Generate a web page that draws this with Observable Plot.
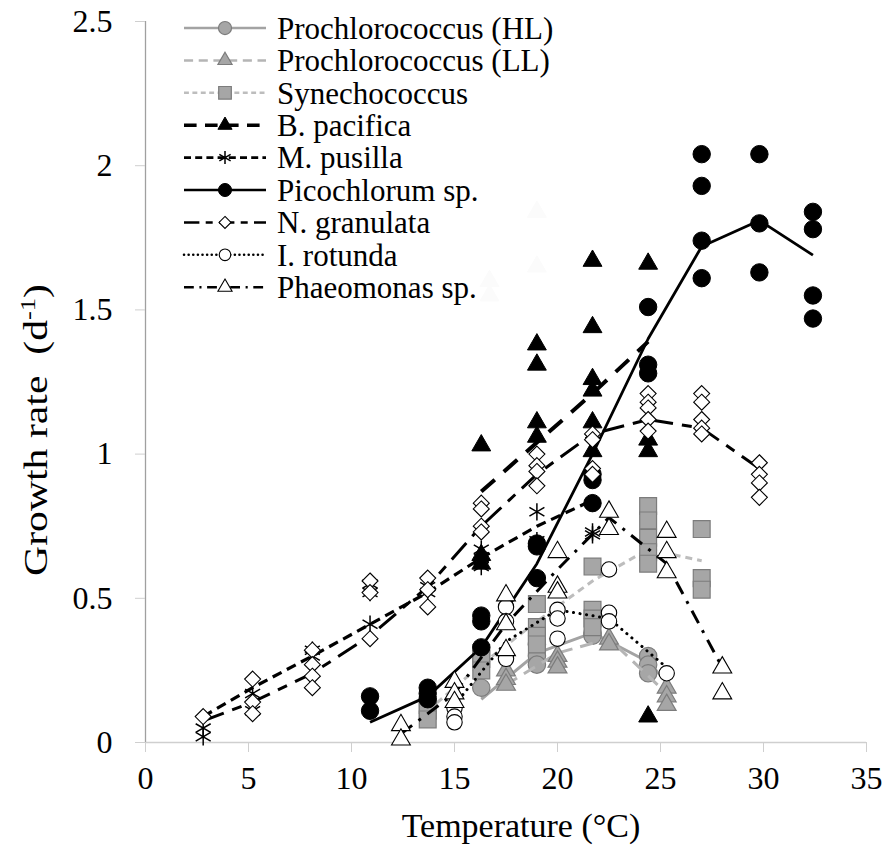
<!DOCTYPE html>
<html><head><meta charset="utf-8">
<script src="https://cdn.jsdelivr.net/npm/d3@7"></script>
<script src="https://cdn.jsdelivr.net/npm/@observablehq/plot@0.6"></script>
<style>
body{margin:0;background:#fff;}
#wrap{position:relative;width:889px;height:847px;font-family:"Liberation Serif",serif;}
#wrap svg, #wrap svg text, #wrap svg tspan {font-family:"Liberation Serif",serif !important;}
#legend{position:absolute;left:180px;top:8px;width:392px;height:298px;background:rgba(255,255,255,0.985);}
</style></head><body><div id="wrap"><div id="legend"></div></div>
<script>
// ---- tick labels ----
const xTicks = [0, 5, 10, 15, 20, 25, 30, 35];
const yTicks = [0, 0.5, 1, 1.5, 2, 2.5];
const xTitle = "Temperature (°C)";
const yTitle = "Growth rate  (d";
const yTitleSup = "-1";

// ---- series names (legend order) ----
const seriesNames = ["Prochlorococcus (HL)", "Prochlorococcus (LL)", "Synechococcus", "B. pacifica",
  "M. pusilla", "Picochlorum sp.", "N. granulata", "I. rotunda", "Phaeomonas sp."];

// ---- measured points [temperature, growth rate] ----
const hlPoints = [[16.3,0.19],[19,0.34],[19,0.30],[19,0.27],[21.7,0.38],[21.7,0.37],[24.4,0.30],[24.4,0.27],[24.4,0.24]];
const llPoints = [[17.5,0.25],[17.5,0.22],[17.5,0.20],[20,0.30],[20,0.28],[20,0.26],[22.5,0.36],[22.5,0.34],[25.3,0.19],[25.3,0.16],[25.3,0.13]];
const synPoints = [[13.7,0.13],[13.7,0.11],[13.7,0.08],[16.3,0.31],[16.3,0.29],[16.3,0.25],[19,0.48],[19,0.40],[19,0.37],[19,0.34],
  [21.7,0.61],[21.7,0.46],[21.7,0.43],[21.7,0.40],[24.4,0.82],[24.4,0.77],[24.4,0.71],[24.4,0.66],[24.4,0.62],[27,0.74],[27,0.57],[27,0.53]];
const bpPoints = [[16.3,1.03],[16.3,0.65],[16.3,0.62],[16.7,1.60],[16.7,1.55],[19,1.84],[19,1.65],[19,1.38],[19,1.31],[19,1.11],[19,1.06],
  [21.7,1.67],[21.7,1.44],[21.7,1.26],[21.7,1.22],[21.7,1.11],[21.7,1.01],[24.4,1.66],[24.4,1.05],[24.4,1.01],[24.4,0.09]];
const mpPoints = [[2.8,0.05],[2.8,0.02],[5.2,0.17],[5.2,0.11],[8.1,0.32],[8.1,0.30],[10.9,0.55],[10.9,0.52],[10.9,0.41],
  [13.7,0.54],[13.7,0.52],[16.3,0.67],[16.3,0.64],[16.3,0.61],[19,0.80],[19,0.70],[21.7,0.83],[21.7,0.73],[21.7,0.72]];
const picoPoints = [[10.9,0.16],[10.9,0.11],[13.7,0.19],[13.7,0.17],[13.7,0.15],[16.3,0.44],[16.3,0.42],[16.3,0.33],
  [19,0.69],[19,0.68],[19,0.57],[21.7,0.93],[21.7,0.91],[21.7,0.83],[24.4,1.51],[24.4,1.31],[24.4,1.28],
  [27,2.04],[27,1.93],[27,1.74],[27,1.61],[29.8,2.04],[29.8,1.80],[29.8,1.63],[32.4,1.84],[32.4,1.78],[32.4,1.55],[32.4,1.47]];
const ngPoints = [[2.8,0.09],[5.2,0.22],[5.2,0.14],[5.2,0.10],[8.1,0.32],[8.1,0.27],[8.1,0.23],[8.1,0.19],
  [10.9,0.56],[10.9,0.52],[10.9,0.36],[13.7,0.57],[13.7,0.53],[13.7,0.47],[16.3,0.83],[16.3,0.81],[16.3,0.75],[16.3,0.73],
  [19,1.00],[19,0.96],[19,0.94],[19,0.89],[21.7,1.07],[21.7,1.05],[21.7,0.95],[21.7,0.93],
  [24.4,1.21],[24.4,1.18],[24.4,1.16],[24.4,1.12],[24.4,1.08],[27,1.21],[27,1.18],[27,1.12],[27,1.09],[27,1.07],
  [29.8,0.97],[29.8,0.93],[29.8,0.90],[29.8,0.85]];
const irPoints = [[15,0.12],[15,0.09],[15,0.07],[17.5,0.47],[17.5,0.42],[17.5,0.29],[20,0.46],[20,0.43],[20,0.36],
  [22.5,0.60],[22.5,0.45],[22.5,0.42],[25.3,0.24]];
const phPoints = [[12.4,0.06],[12.4,0.01],[15,0.21],[15,0.17],[15,0.14],[17.5,0.51],[17.5,0.41],[17.5,0.32],
  [20,0.66],[20,0.54],[20,0.52],[22.5,0.80],[22.5,0.74],[25.3,0.73],[25.3,0.66],[25.3,0.59],[28,0.26],[28,0.17]];

// ---- trend lines [temperature, growth rate] ----
const hlLine = [[16.3,0.15],[19,0.31],[21.7,0.38],[24.4,0.28],[25.3,0.21]];
const llLine = [[17.5,0.20],[20,0.31],[22.5,0.36],[25.3,0.17]];
const synLine = [[13.7,0.11],[16.3,0.27],[19,0.42],[21.7,0.56],[24.4,0.67],[27,0.63]];
const bpLine = [[16.3,0.87],[19,1.04],[21.7,1.21],[24.4,1.39]];
const mpLine = [[2.8,0.09],[5.2,0.19],[8.1,0.30],[10.9,0.41],[13.7,0.52],[16.3,0.64],[19,0.75],[21.7,0.84]];
const picoLine = [[10.9,0.07],[13.7,0.16],[16.3,0.33],[19,0.62],[21.7,1.0],[24.4,1.40],[27,1.72],[29.8,1.81],[32.4,1.69]];
const ngLine = [[2.8,0.075],[5.2,0.14],[8.1,0.24],[10.9,0.37],[13.7,0.54],[16.3,0.75],[19,0.93],[21.7,1.07],[24.4,1.12],[27,1.09],[29.8,0.95]];
const irLine = [[15,0.13],[17.5,0.35],[20,0.46],[22.5,0.43],[25.3,0.26]];
const phLine = [[12.4,0.03],[15,0.17],[17.5,0.41],[20,0.60],[22.5,0.78],[25.3,0.62],[28,0.26]];

const pointSets = [hlPoints, llPoints, synPoints, bpPoints, mpPoints, picoPoints, ngPoints, irPoints, phPoints];
const lineSets = [hlLine, llLine, synLine, bpLine, mpLine, picoLine, ngLine, irLine, phLine];

// ---- styles ----
const styles = [
  {symbol:"circle", r:8.7, fill:"#a6a6a6", stroke:"#7c7c7c", sw:1.2, line:"#a3a3a3", lw:3, dash:null, cap:"butt"},
  {symbol:"triangle", r:7, fill:"#a6a6a6", stroke:"#7c7c7c", sw:1.2, line:"#b5b5b5", lw:3, dash:"13,8", cap:"butt"},
  {symbol:"square", r:9.5, fill:"#a6a6a6", stroke:"#7c7c7c", sw:1.2, line:"#bdbdbd", lw:3, dash:"7,5", cap:"butt"},
  {symbol:"triangle", r:7, fill:"black", stroke:"black", sw:1, line:"black", lw:4, dash:"18,12", cap:"butt"},
  {symbol:"asterisk", r:8.2, fill:"none", stroke:"black", sw:1.5, line:"black", lw:3.2, dash:"10,6", cap:"butt"},
  {symbol:"circle", r:8.7, fill:"black", stroke:"black", sw:1, line:"black", lw:2.8, dash:null, cap:"butt"},
  {symbol:"diamond2", r:7.2, fill:"white", stroke:"black", sw:1.1, line:"black", lw:3, dash:"22,9,10,9", cap:"butt"},
  {symbol:"circle", r:7.7, fill:"white", stroke:"black", sw:1.1, line:"black", lw:3, dash:"0.1,6.5", cap:"round"},
  {symbol:"triangle", r:7, fill:"white", stroke:"black", sw:1.1, line:"black", lw:3, dash:"14,8,3,8", cap:"butt"}
];

const FONT = "Liberation Serif";
const marks = [
  Plot.ruleY([0], {x1: 0, x2: 35, stroke: "#cfcfcf", strokeWidth: 1.3}),
  Plot.ruleX([0], {y1: 0, y2: 2.5, stroke: "#a0a0a0", strokeWidth: 1.3}),
  Plot.axisX({ticks: xTicks, tickFormat: d => String(d), tickSize: 10, tickPadding: 14, stroke: "#cfcfcf", fill: "black", label: null, fontSize: 32, fontFamily: FONT}),
  Plot.axisY({ticks: yTicks, tickFormat: d => String(d), tickSize: 10, tickPadding: 23, stroke: "#cfcfcf", fill: "black", label: null, fontSize: 32, fontFamily: FONT})
];
seriesNames.forEach((name, i) => {
  const s = styles[i];
  marks.push(Plot.line(lineSets[i], {x: d => d[0], y: d => d[1], stroke: s.line, strokeWidth: s.lw,
    strokeDasharray: s.dash, strokeLinecap: s.cap, strokeLinejoin: "round"}));
  marks.push(Plot.dot(pointSets[i], {x: d => d[0], y: d => d[1], symbol: s.symbol, r: s.r,
    fill: s.fill, stroke: s.stroke, strokeWidth: s.sw}));
});

const chart = Plot.plot({
  width: 889, height: 847,
  marginLeft: 145, marginRight: 23, marginTop: 21, marginBottom: 105,
  style: {fontFamily: FONT, fontSize: "30px", color: "black", background: "white", overflow: "visible"},
  x: {domain: [0, 35]},
  y: {domain: [0, 2.5]},
  marks
});
const wrap = document.getElementById("wrap");
wrap.insertBefore(chart, wrap.firstChild);

const svg = d3.select(chart);
svg.append("text").attr("x", 521).attr("y", 837).attr("text-anchor", "middle")
  .attr("font-size", 34).attr("fill", "black").text(xTitle);
const yt = svg.append("text").attr("transform", "translate(47,430) rotate(-90)").attr("text-anchor", "middle")
  .attr("font-size", 33).attr("fill", "black")
  .attr("textLength", 292).attr("lengthAdjust", "spacingAndGlyphs");
yt.append("tspan").text(yTitle);
yt.append("tspan").attr("font-size", 21).attr("dy", -12).text(yTitleSup);
yt.append("tspan").attr("dy", 12).text(")");
svg.selectAll("text").attr("font-family", FONT);

// ---- legend ----
const symMap = {circle: d3.symbolCircle, triangle: d3.symbolTriangle, square: d3.symbolSquare, asterisk: d3.symbolAsterisk, diamond2: d3.symbolDiamond2};
const lg = d3.select("#legend").append("svg").attr("width", 392).attr("height", 298).attr("font-family", FONT);
seriesNames.forEach((name, i) => {
  const s = styles[i];
  const cy = 20 + i * 32.4;
  lg.append("line").attr("x1", 4).attr("x2", 86).attr("y1", cy).attr("y2", cy)
    .attr("stroke", s.line).attr("stroke-width", s.lw * 0.85)
    .attr("stroke-dasharray", s.dash ? s.dash.split(",").map(v => +v * 0.7).join(",") : null)
    .attr("stroke-linecap", s.cap);
  const rr = s.r * 0.75;
  lg.append("path").attr("transform", `translate(45,${cy})`)
    .attr("d", d3.symbol(symMap[s.symbol], Math.PI * rr * rr)())
    .attr("fill", s.fill).attr("stroke", s.stroke).attr("stroke-width", s.sw);
  lg.append("text").attr("x", 97).attr("y", cy).attr("dy", "0.35em").attr("font-size", 31)
    .attr("font-family", FONT).attr("fill", "black").text(name);
});
</script></body></html>
